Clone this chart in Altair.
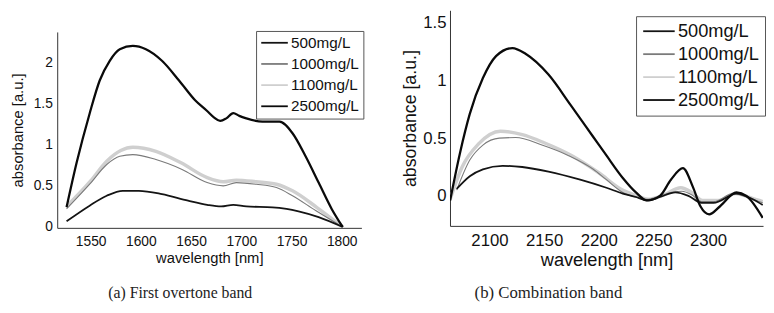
import altair as alt
import pandas as pd

SERIES = ["500mg/L", "1000mg/L", "1100mg/L", "2500mg/L"]
COLORS = ["#141414", "#7a7a7a", "#cfcfcf", "#0a0a0a"]
WIDTHS = {"500mg/L": 1.8, "1000mg/L": 1.1, "1100mg/L": 3.5, "2500mg/L": 2.3}
DRAW_ORDER = ["1100mg/L", "1000mg/L", "500mg/L", "2500mg/L"]

# ---- (a) First overtone band ----
a_wl_500 = [1526, 1549, 1566, 1582, 1598, 1621, 1647, 1666, 1680, 1692, 1705, 1731, 1745, 1757, 1777, 1801]
a_ab_500 = [0.07, 0.26, 0.38, 0.44, 0.44, 0.40, 0.32, 0.27, 0.25, 0.27, 0.25, 0.24, 0.22, 0.19, 0.12, 0.0]

a_wl_1000 = [1526, 1549, 1566, 1579, 1592, 1615, 1641, 1666, 1682, 1695, 1715, 1735, 1751, 1774, 1801]
a_ab_1000 = [0.22, 0.52, 0.76, 0.86, 0.88, 0.82, 0.70, 0.54, 0.50, 0.54, 0.52, 0.48, 0.38, 0.20, 0.0]

a_wl_1100 = [1526, 1550, 1566, 1580, 1592, 1615, 1640, 1666, 1682, 1695, 1715, 1735, 1751, 1775, 1801]
a_ab_1100 = [0.25, 0.56, 0.80, 0.93, 0.97, 0.92, 0.78, 0.60, 0.55, 0.57, 0.55, 0.52, 0.44, 0.24, 0.0]

a_wl_2500 = [1526, 1536, 1549, 1559, 1569, 1579, 1592, 1605, 1621, 1638, 1654, 1666, 1673, 1679,
             1685, 1692, 1698, 1705, 1721, 1738, 1751, 1764, 1777, 1790, 1801]
a_ab_2500 = [0.24, 0.78, 1.38, 1.78, 2.02, 2.16, 2.20, 2.16, 2.02, 1.78, 1.54, 1.41, 1.33, 1.29,
             1.32, 1.385, 1.35, 1.32, 1.28, 1.28, 1.14, 0.86, 0.54, 0.22, 0.0]

# ---- (b) Combination band ----
b_wl_500 = [2070, 2082, 2094, 2112, 2130, 2154, 2183, 2207, 2222, 2234, 2244, 2256, 2270, 2282,
            2294, 2305, 2326, 2341, 2350]
b_ab_500 = [0.06, 0.17, 0.23, 0.26, 0.25, 0.21, 0.14, 0.07, 0.02, -0.01, -0.04, -0.01, 0.03, 0.0,
            -0.06, -0.06, 0.02, -0.03, -0.08]

b_wl_1000 = [2070, 2082, 2094, 2109, 2124, 2148, 2172, 2195, 2207, 2222, 2234, 2244, 2256, 2267,
             2276, 2285, 2294, 2305, 2323, 2338, 2350]
b_ab_1000 = [0.05, 0.31, 0.44, 0.50, 0.505, 0.44, 0.35, 0.23, 0.14, 0.03, -0.01, -0.03, 0.0, 0.03,
             0.04, 0.01, -0.05, -0.05, 0.02, -0.02, -0.06]

b_wl_1100 = [2064, 2075, 2090, 2110, 2130, 2150, 2175, 2200, 2220, 2235, 2245, 2260, 2275, 2285,
             2295, 2310, 2325, 2340, 2350]
b_ab_1100 = [-0.03, 0.25, 0.45, 0.56, 0.53, 0.46, 0.35, 0.20, 0.06, 0.0, -0.03, 0.01, 0.07, 0.03,
             -0.04, -0.04, 0.02, -0.02, -0.05]

b_wl_2500 = [2064, 2073, 2082, 2094, 2106, 2121, 2133, 2154, 2174, 2195, 2207, 2222, 2234, 2244,
             2256, 2266, 2277, 2286, 2293, 2301, 2311, 2326, 2335, 2350]
b_ab_2500 = [-0.04, 0.37, 0.71, 1.02, 1.21, 1.28, 1.23, 1.05, 0.79, 0.51, 0.35, 0.155, 0.03, -0.04,
             0.0, 0.14, 0.24, 0.08, -0.09, -0.16, -0.09, 0.03, 0.0, -0.19]

a_xticks = [1550, 1600, 1650, 1700, 1750, 1800]
a_yticks = [0, 0.5, 1, 1.5, 2]
b_xticks = [2100, 2150, 2200, 2250, 2300]
b_yticks = [0, 0.5, 1, 1.5]

data_a = {"500mg/L": (a_wl_500, a_ab_500), "1000mg/L": (a_wl_1000, a_ab_1000),
          "1100mg/L": (a_wl_1100, a_ab_1100), "2500mg/L": (a_wl_2500, a_ab_2500)}
data_b = {"500mg/L": (b_wl_500, b_ab_500), "1000mg/L": (b_wl_1000, b_ab_1000),
          "1100mg/L": (b_wl_1100, b_ab_1100), "2500mg/L": (b_wl_2500, b_ab_2500)}

SANS = "Liberation Sans"
SERIF = "Liberation Serif"
# legend line symbol: starts at the entry's left edge, 2x the symbol box wide
LINE_PATH = "M-1,0L3,0"


def panel(data, xdom, ydom, xticks, yticks, w, h, tick_fs, xt_fs, yt_fs, leg_fs, sym_len,
          leg_x, leg_y, row_pad, leg_pad, ylab_pad, ytitle_pad, caption, cap_fs, cap_x, cap_y):
    half = sym_len / 2.0
    layers = []
    for s in DRAW_ORDER:
        wl, ab = data[s]
        df = pd.DataFrame({"wavelength": wl, "absorbance": ab, "series": s})
        layers.append(
            alt.Chart(df).mark_line(strokeWidth=WIDTHS[s], interpolate="monotone", clip=True).encode(
                x=alt.X("wavelength:Q",
                        scale=alt.Scale(domain=xdom, nice=False, zero=False),
                        axis=alt.Axis(values=xticks, format="d", title="wavelength [nm]",
                                      grid=False, ticks=False, labelPadding=7,
                                      labelFont=SANS, labelFontSize=tick_fs, labelColor="#111",
                                      titleFont=SANS, titleFontSize=xt_fs, titleFontWeight="normal",
                                      titleColor="#111", titlePadding=2,
                                      domainColor="#333", labelFlush=False)),
                y=alt.Y("absorbance:Q",
                        scale=alt.Scale(domain=ydom, nice=False, zero=False),
                        axis=alt.Axis(values=yticks, format="~g", title="absorbance [a.u.]",
                                      grid=False, ticks=False, labelPadding=ylab_pad,
                                      labelFont=SANS, labelFontSize=tick_fs, labelColor="#111",
                                      titleFont=SANS, titleFontSize=yt_fs, titleFontWeight="normal",
                                      titleColor="#111", titlePadding=ytitle_pad,
                                      domainColor="#333", labelFlush=False)),
                color=alt.Color("series:N",
                                scale=alt.Scale(domain=SERIES, range=COLORS),
                                legend=alt.Legend(title=None, orient="none", legendX=leg_x, legendY=leg_y,
                                                  symbolType=LINE_PATH, symbolSize=half * half,
                                                  symbolStrokeWidth=1.8, symbolFillColor="transparent",
                                                  labelFont=SANS, labelFontSize=leg_fs, labelColor="#111",
                                                  labelOffset=half + 2, rowPadding=row_pad,
                                                  padding=leg_pad, strokeColor="#555",
                                                  fillColor="white", labelLimit=200)),
            )
        )
    cap = alt.Chart(pd.DataFrame({"t": [caption]})).mark_text(
        font=SERIF, fontSize=cap_fs, color="#222", align="center", baseline="middle"
    ).encode(text="t:N", x=alt.value(cap_x), y=alt.value(cap_y))
    return alt.layer(*layers, cap).properties(width=w, height=h)


SPACER_H = 22
left = panel(data_a, [1516.7, 1819.6], [-0.01, 2.37], a_xticks, a_yticks, 309, 199,
             14, 15, 15, 15.5, 27, 202, SPACER_H - 1, 4.5, 4, 5, 7.5,
             "(a) First overtone band", 16, 125, 265)
right = panel(data_b, [2063.9, 2350.3], [-0.26, 1.607], b_xticks, b_yticks, 318, 219,
              17, 18.5, 18, 18.5, 32, 189, 6, 4.3, 6, 4, 3,
              "(b) Combination band", 17, 100, 287)

# empty strip above panel (a): its plot area starts lower than panel (b)'s
spacer = alt.Chart(pd.DataFrame({"t": [""]})).mark_text().encode(text="t:N").properties(
    width=309, height=SPACER_H)
left_col = alt.vconcat(spacer, left, spacing=0)

chart = alt.hconcat(left_col, right, spacing=38).resolve_scale(color="independent").properties(
    padding={"left": 3, "top": 0, "right": 0, "bottom": 0}
).configure_view(stroke=None)

chart.save("out.html", embed_options={"renderer": "svg", "actions": False})
